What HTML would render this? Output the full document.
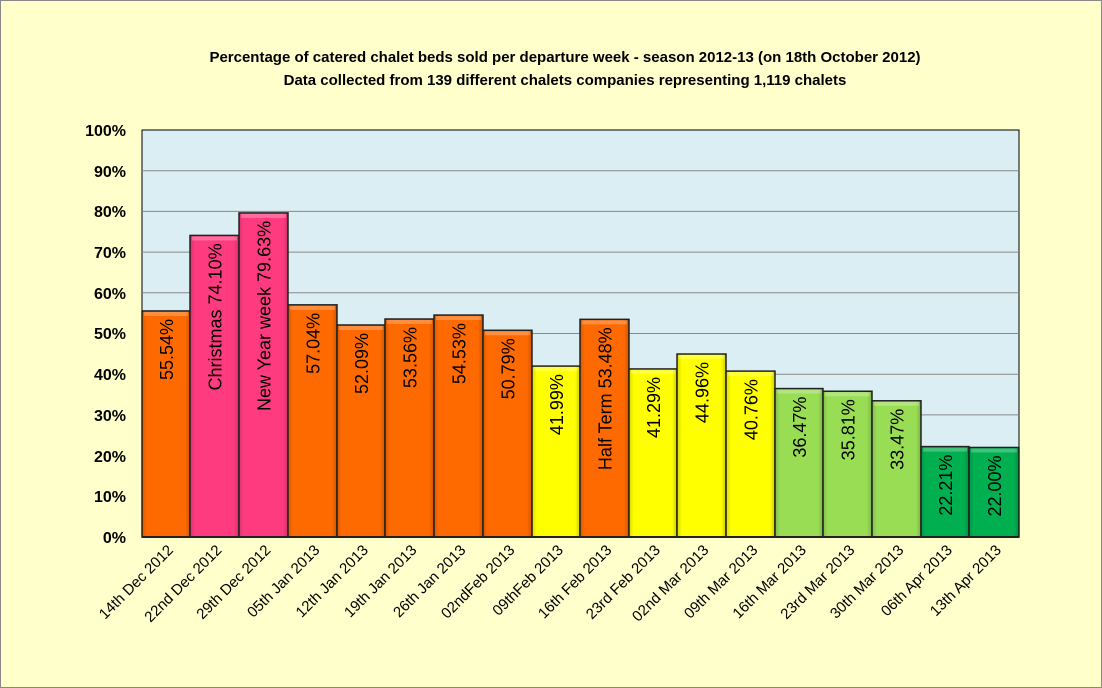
<!DOCTYPE html>
<html><head><meta charset="utf-8"><style>
html,body{margin:0;padding:0;background:#fff}
svg{display:block;font-family:"Liberation Sans",sans-serif}
</style></head><body>
<svg width="1102" height="688" viewBox="0 0 1102 688" xmlns="http://www.w3.org/2000/svg">
<defs>
<linearGradient id="sh" x1="0" x2="1" y1="0" y2="0">
<stop offset="0" stop-color="#000" stop-opacity="0.15"/>
<stop offset="0.1" stop-color="#000" stop-opacity="0"/>
<stop offset="0.9" stop-color="#000" stop-opacity="0"/>
<stop offset="1" stop-color="#000" stop-opacity="0.2"/>
</linearGradient>
</defs>
<rect x="0.5" y="0.5" width="1101" height="687" fill="#FFFFCC" stroke="#888" stroke-width="1"/>
<text x="565" y="62" text-anchor="middle" font-size="15" font-weight="bold">Percentage of catered chalet beds sold per departure week - season 2012-13 (on 18th October 2012)</text>
<text x="565" y="85" text-anchor="middle" font-size="15" font-weight="bold">Data collected from 139 different chalets companies representing 1,119 chalets</text>
<rect x="142" y="130" width="877" height="407" fill="#DAEEF3" stroke="#000" stroke-width="1"/>
<g stroke="#888" stroke-width="1">
<line x1="142" x2="1019" y1="170.7" y2="170.7"/><line x1="142" x2="1019" y1="211.4" y2="211.4"/>
<line x1="142" x2="1019" y1="252.1" y2="252.1"/><line x1="142" x2="1019" y1="292.8" y2="292.8"/>
<line x1="142" x2="1019" y1="333.5" y2="333.5"/><line x1="142" x2="1019" y1="374.2" y2="374.2"/>
<line x1="142" x2="1019" y1="414.9" y2="414.9"/><line x1="142" x2="1019" y1="455.6" y2="455.6"/>
<line x1="142" x2="1019" y1="496.3" y2="496.3"/>
</g>
<g font-size="16" font-weight="bold" text-anchor="end">
<text x="126" y="136">100%</text><text x="126" y="177">90%</text><text x="126" y="217">80%</text>
<text x="126" y="258">70%</text><text x="126" y="299">60%</text><text x="126" y="339">50%</text>
<text x="126" y="380">40%</text><text x="126" y="421">30%</text><text x="126" y="462">20%</text>
<text x="126" y="502">10%</text><text x="126" y="543">0%</text>
</g>
<g id="bars" stroke="#222" stroke-width="1.5"></g>
<line x1="142" x2="1019" y1="537" y2="537" stroke="#222" stroke-width="2"/>
<g id="labels" font-size="18"></g>
<g id="cats" font-size="15"></g>
<script>
var d=[["14th Dec 2012",55.54,"55.54%","#FF6A00"],["22nd Dec 2012",74.10,"Christmas 74.10%","#FF3B7F"],["29th Dec 2012",79.63,"New Year week 79.63%","#FF3B7F"],["05th Jan 2013",57.04,"57.04%","#FF6A00"],["12th Jan 2013",52.09,"52.09%","#FF6A00"],["19th Jan 2013",53.56,"53.56%","#FF6A00"],["26th Jan 2013",54.53,"54.53%","#FF6A00"],["02ndFeb 2013",50.79,"50.79%","#FF6A00"],["09thFeb 2013",41.99,"41.99%","#FFFF00"],["16th Feb 2013",53.48,"Half Term 53.48%","#FF6A00"],["23rd Feb 2013",41.29,"41.29%","#FFFF00"],["02nd Mar 2013",44.96,"44.96%","#FFFF00"],["09th Mar 2013",40.76,"40.76%","#FFFF00"],["16th Mar 2013",36.47,"36.47%","#99DD55"],["23rd Mar 2013",35.81,"35.81%","#99DD55"],["30th Mar 2013",33.47,"33.47%","#99DD55"],["06th Apr 2013",22.21,"22.21%","#00B050"],["13th Apr 2013",22.00,"22.00%","#00B050"]];
var e=[142,190,239,288,337,385,434,483,532,580,629,677,726,775,823,872,921,969,1019];
var ns="http://www.w3.org/2000/svg";
function el(t,a,p,txt){var n=document.createElementNS(ns,t);for(var k in a)n.setAttribute(k,a[k]);if(txt)n.textContent=txt;document.getElementById(p).appendChild(n);}
for(var i=0;i<18;i++){
 var x=e[i],w=e[i+1]-e[i],y=537-d[i][1]*4.07,h=537-y,c=x+w/2;
 el("rect",{x:x,y:y,width:w,height:h,fill:d[i][3]},"bars");
 el("rect",{x:x,y:y,width:w,height:h,fill:"url(#sh)",stroke:"none"},"bars");
 el("rect",{x:x+2,y:y+1,width:w-4,height:4,fill:"#fff","fill-opacity":"0.25",stroke:"none"},"bars");
 el("text",{x:0,y:0,transform:"translate("+(c+7)+","+(y+8)+") rotate(-90)","text-anchor":"end"},"labels",d[i][2]);
 el("text",{x:0,y:0,transform:"translate("+(c+8)+","+551+") rotate(-45)","text-anchor":"end"},"cats",d[i][0]);
}
</script>
</svg>
</body></html>
